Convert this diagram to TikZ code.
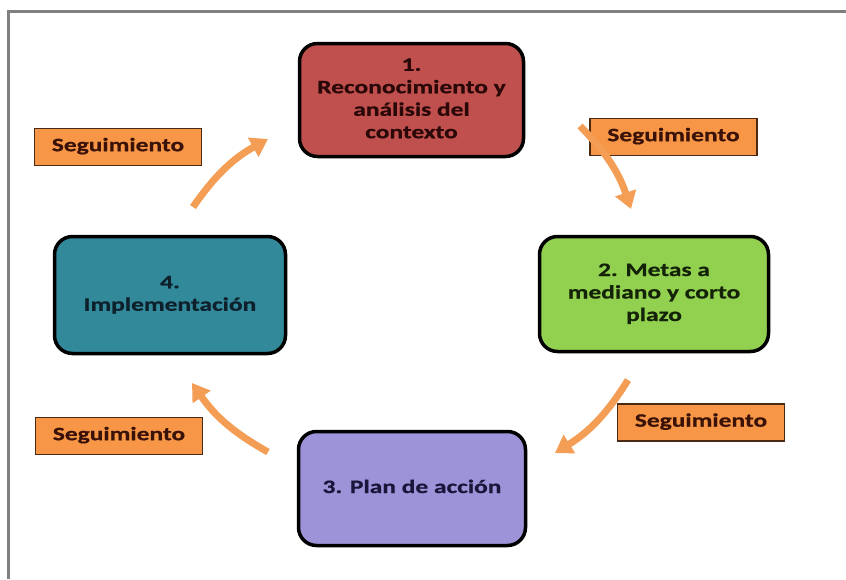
\documentclass[tikz,border=0pt]{standalone}
\usepackage{fontspec}
\usepackage{graphicx}
\setmainfont{Carlito}
\newfontfamily\heavy{Carlito}[FakeBold=0.6]
\usetikzlibrary{arrows.meta}
\definecolor{frame}{HTML}{808080}
\definecolor{redbox}{HTML}{C0504D}
\definecolor{greenbox}{HTML}{92D050}
\definecolor{purplebox}{HTML}{9D93D8}
\definecolor{tealbox}{HTML}{31899A}
\definecolor{orangefill}{HTML}{F79646}
\definecolor{orangearrow}{HTML}{F49D55}
\definecolor{segline}{HTML}{4A2A14}
\definecolor{segtext}{HTML}{3A1208}
\definecolor{redtext}{HTML}{2A0808}
\definecolor{greentext}{HTML}{142208}
\definecolor{purpletext}{HTML}{18163A}
\definecolor{tealtext}{HTML}{0E202C}
\newcommand\hx[1]{\scalebox{1.34}[1]{\begin{tabular}{@{}c@{}}#1\end{tabular}}}
\begin{document}
\begin{tikzpicture}[x=1pt,y=-1pt,
  stagebox/.style={draw=black, line width=3.5pt, rounded corners=18pt,
    font=\heavy\fontsize{19}{22.5}\selectfont\bfseries, inner sep=0pt, align=center},
  segbox/.style={draw=segline, line width=1.3pt, fill=orangefill, text=segtext,
    font=\heavy\fontsize{19}{21}\selectfont\bfseries, minimum width=167pt, minimum height=37pt, inner sep=0pt},
  cyc/.style={draw=orangearrow, line width=7pt,
    -{Triangle[width=21pt,length=17pt]}, bend left=13}
]
\useasboundingbox (0,0) rectangle (846,579);
\fill[white] (0,0) rectangle (846,579);
\draw[frame, line width=3pt] (8.5,579) -- (8.5,11.5) -- (846,11.5);

\node[stagebox, fill=redbox, text=redtext, minimum width=224pt, minimum height=113pt] (n1) at (411.5,100) {\raisebox{-3pt}{\hx{1.\\Reconocimiento y\\análisis del\\contexto}}};
\node[stagebox, fill=greenbox, text=greentext, minimum width=229pt, minimum height=115pt] (n2) at (654,294) {\hx{2. Metas a\\mediano y corto\\plazo}};
\node[stagebox, fill=purplebox, text=purpletext, minimum width=227pt, minimum height=114pt] (n3) at (412,488.5) {\hx{3. Plan de acción}};
\node[stagebox, fill=tealbox, text=tealtext, minimum width=231pt, minimum height=117pt] (n4) at (170,295) {\hx{4.\\Implementación}};

\node[segbox] (s1) at (118,147) {\hx{Seguimiento}};
\node[segbox] (s2) at (673.5,137) {\hx{Seguimiento}};
\node[segbox] (s3) at (701,422.5) {\hx{Seguimiento}};
\node[segbox] (s4) at (119,436) {\hx{Seguimiento}};

\coordinate (a1s) at (193,207);
\coordinate (a1e) at (268,139);
\coordinate (a2s) at (580,126);
\coordinate (a2e) at (631,209);
\coordinate (a3s) at (628,380);
\coordinate (a3e) at (555,453);
\coordinate (a4s) at (268,452);
\coordinate (a4e) at (192,383);

\draw[cyc] (a1s) to (a1e);
\draw[cyc] (a2s) to (a2e);
\draw[cyc] (a3s) to (a3e);
\draw[cyc] (a4s) to (a4e);
\end{tikzpicture}
\end{document}
